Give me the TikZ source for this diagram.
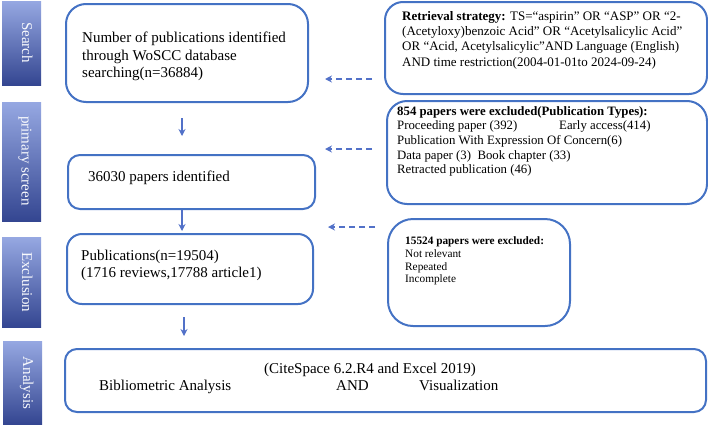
\documentclass[tikz,border=0pt]{standalone}
\usepackage{fontspec}
\setmainfont{Liberation Serif}
\usepackage{tikz}
\usetikzlibrary{arrows.meta,calc}
\definecolor{boxblue}{RGB}{68,114,196}
\definecolor{arrowblue}{RGB}{82,113,200}
\definecolor{barlight}{RGB}{150,168,226}
\definecolor{bardark}{RGB}{52,70,145}

\begin{document}
\begin{tikzpicture}[x=1pt,y=-1pt,>={Stealth[length=7pt,width=7pt]},
  box/.style={draw=boxblue,line width=2pt,rounded corners=#1,inner sep=0pt},
  box/.default=14pt,
  bar/.style={top color=barlight,bottom color=bardark,draw=none,inner sep=0pt,minimum width=39pt},
  bartext/.style={rotate=-90,anchor=base,text=white!94!barlight,font=\fontsize{15}{18}\selectfont},
  txt/.style={anchor=west,align=left,inner sep=0pt},
  flow/.style={->,draw=arrowblue,line width=1.4pt},
  side/.style={->,draw=arrowblue,line width=1.4pt,dash pattern=on 6pt off 4pt}]
\useasboundingbox (0,0) rectangle (708,426);
\node[bar,minimum height=84pt] (searchbar) at (21.5,43) {};
\node[bar,minimum height=119pt] (screenbar) at (21.5,161.5) {};
\node[bar,minimum height=90pt] (exclbar) at (21.5,282) {};
\node[bar,minimum height=83pt] (anabar) at (22.5,382.5) {};
\node[bartext] (searchlabel) at (22,42.5) {Search};
\node[bartext] (screenlabel) at (21.5,161) {primary screen};
\node[bartext] (excllabel) at (22,282) {Exclusion};
\node[bartext] (analabel) at (23,383) {Analysis};
\node[box=20pt,minimum width=242pt,minimum height=98pt] (search) at (187,53) {};
\node[box=12pt,minimum width=247pt,minimum height=54pt] (screen) at (191.5,182) {};
\node[box=15pt,minimum width=246pt,minimum height=70pt] (pubs) at (190,269) {};
\node[box=12pt,minimum width=641pt,minimum height=63pt] (ana) at (385.5,380.5) {};
\node[box=18pt,minimum width=322pt,minimum height=92pt] (retr) at (546,48) {};
\node[box=20pt,minimum width=320pt,minimum height=103pt] (types) at (547,152.5) {};
\node[box=25pt,minimum width=182pt,minimum height=107pt] (excl) at (479,272.5) {};
\node[txt,font=\fontsize{15}{17.7}\selectfont] (searchtext) at (82,56.5)
  {Number of publications identified\\through WoSCC database\\searching(n=36884)};
\node[txt,font=\fontsize{15}{17.7}\selectfont] (screentext) at (88,178) {36030 papers identified};
\node[txt,font=\fontsize{15}{17.5}\selectfont] (pubstext) at (81,265.5)
  {Publications(n=19504)\\(1716 reviews,17788 article1)};
\node[txt,font=\fontsize{13}{15.3}\selectfont] (retrtext) at (402,40)
  {\textbf{Retrieval strategy:} TS=“aspirin” OR “ASP” OR “2-\\(Acetyloxy)benzoic Acid” OR “Acetylsalicylic Acid”\\OR “Acid, Acetylsalicylic”AND Language (English)\\AND time restriction(2004-01-01to 2024-09-24)};
\node[txt,font=\fontsize{12.8}{14.7}\selectfont] (typestext) at (397,141.5)
  {\textbf{854 papers were excluded(Publication Types):}\\
   \makebox[162pt][l]{Proceeding paper (392)}Early access(414)\\
   Publication With Expression Of Concern(6)\\
   Data paper (3)\ \ Book chapter (33)\\
   Retracted publication (46)};
\node[txt,font=\fontsize{11.3}{12.7}\selectfont] (excltext) at (405,261)
  {\textbf{15524 papers were excluded:}\\Not relevant\\Repeated\\Incomplete};
\node[txt,font=\fontsize{15}{18}\selectfont] (anatools) at (264,370) {(CiteSpace 6.2.R4 and Excel 2019)};
\node[txt,font=\fontsize{15}{18}\selectfont] (anabib) at (99,387) {Bibliometric Analysis};
\node[txt,font=\fontsize{15}{18}\selectfont] (anaand) at (336,385.4) {AND};
\node[txt,font=\fontsize{15}{18}\selectfont] (anavis) at (419,385.4) {Visualization};
\coordinate (ax) at (182,0);
\coordinate (bx) at (184,0);
\coordinate (d1) at (0,79);
\coordinate (d2) at (0,149);
\coordinate (d3) at (0,227);
\draw[flow,shorten <=15pt,shorten >=18pt] (search.south -| ax) -- (screen.north -| ax);
\draw[flow,shorten >=2pt] (screen.south -| ax) -- (pubs.north -| ax);
\draw[flow,shorten <=12pt,shorten >=12pt] (pubs.south -| bx) -- (ana.north -| bx);
\draw[side,shorten <=12pt,shorten >=16pt] (retr.west |- d1) -- (search.east |- d1);
\draw[side,shorten <=14pt,shorten >=9pt] (types.west |- d2) -- (screen.east |- d2);
\draw[side,shorten <=12pt,shorten >=14pt] (excl.west |- d3) -- (pubs.east |- d3);
\end{tikzpicture}
\end{document}
